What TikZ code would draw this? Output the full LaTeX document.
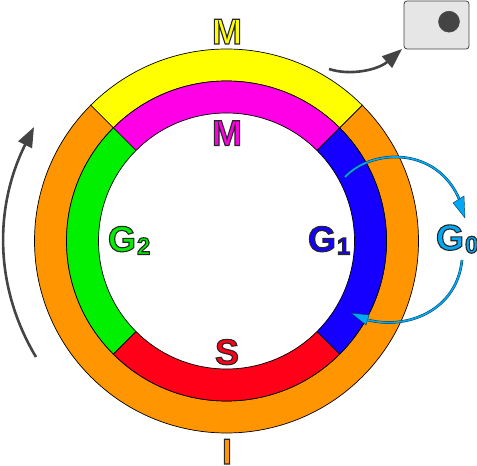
\documentclass[tikz,border=0pt]{standalone}
\usepackage{fontspec}
\setmainfont{Liberation Sans}[BoldFont={Liberation Sans Bold}]
\usetikzlibrary{arrows.meta}
\definecolor{cOrange}{HTML}{FF9500}
\definecolor{cYellow}{HTML}{FFFF00}
\definecolor{cMagenta}{HTML}{FF00E6}
\definecolor{cBlue}{HTML}{1500FF}
\definecolor{cGreen}{HTML}{00F000}
\definecolor{cRed}{HTML}{FF0018}
\definecolor{cSky}{HTML}{00A8F5}
\definecolor{cDark}{HTML}{444444}
\definecolor{cBoxFill}{HTML}{E6E6E6}
\newcommand{\outl}[1]{\special{pdf:code q 2 Tr 1.1 w 0.15 0.15 0.15 RG}#1\special{pdf:code Q}}
\newcommand{\lab}[2]{\outl{\fontsize{36bp}{36bp}\selectfont\bfseries #1\ifx&#2&\else\kern1pt\raisebox{-3bp}{\fontsize{24bp}{24bp}\selectfont #2}\fi}}
\tikzset{
  x=1bp,y=-1bp,
  seg/.style={draw=black,line width=0.7bp,fill=#1},
  lbl/.style={inner sep=0pt,outer sep=0pt,text=#1},
  grayarrow/.style={draw=cDark,line width=2.6bp,-{Triangle[length=20bp,width=15bp,fill=cDark]},shorten >=0pt},
  bluearrow/.style={draw=cSky!35!black,line width=0.5bp,double=cSky,double distance=1.6bp},
  bluehead/.style={fill=cSky,draw=cSky!35!black,line width=0.4bp},
}
\newcommand{\ringseg}[4]{% start angle, end angle, outer r, colour
  \pgfmathsetmacro{\rin}{#3-32}
  \begin{scope}[shift={(226.5,241)}]
  \draw[seg=#4] (#1:#3) arc[start angle=#1,end angle=#2,radius=#3]
     -- (#2:\rin) arc[start angle=#2,end angle=#1,radius=\rin] -- cycle;
  \end{scope}}
\begin{document}
\begin{tikzpicture}
\useasboundingbox (0,0) rectangle (477,466);
% outer ring
\ringseg{-45}{-135}{192}{cYellow}
\ringseg{-135}{-405}{192}{cOrange}
% inner ring
\ringseg{-45}{-135}{160}{cMagenta}
\ringseg{-135}{-225}{160}{cGreen}
\ringseg{-225}{-315}{160}{cRed}
\ringseg{45}{-45}{160}{cBlue}
% labels
\node[lbl=cYellow,anchor=base] (mtop) at (227,44) {\lab{M}{}};
\node[lbl=cMagenta,anchor=base] (minner) at (227,145.5) {\lab{M}{}};
\node[lbl=cRed,anchor=base] (s) at (227,364.5) {\lab{S}{}};
\node[lbl=cOrange,anchor=base] (i) at (227,464) {\lab{I}{}};
\node[lbl=cGreen,anchor=base west] (g2) at (108,251.5) {\lab{G}{2}};
\node[lbl=cBlue,anchor=base west] (g1) at (308,251.5) {\lab{G}{1}};
\node[lbl=cSky,anchor=base west] (g0) at (436,250) {\lab{G}{0}};
% box
\node[draw=cDark,fill=cBoxFill,rounded corners=3bp,line width=0.8bp,minimum width=65bp,minimum height=48bp,inner sep=0pt] (box) at (436.5,25) {};
\node[circle,fill=cDark,draw=black!70,line width=0.5bp,minimum size=21bp,inner sep=0pt] (dot) at (449,21.7) {};
% grey arrows
\coordinate (a1) at (329,69);
\coordinate (a1t) at (402,49);
\draw[grayarrow] (a1) .. controls (350,76) and (378,70) .. (a1t);
\coordinate (a2) at (36,357);
\coordinate (a2t) at (34,127);
\draw[grayarrow] (a2) .. controls (-7,285) and (-5,205) .. (a2t);
% blue arrows
\coordinate (b1) at (345,177);
\coordinate (b1e) at (460,201);
\coordinate (b2) at (462,260);
\coordinate (b2e) at (368,320);
\draw[bluearrow] (b1) .. controls (372,148) and (438,146) .. (b1e);
\draw[bluehead] (465,218) -- (453,203) -- (464,196) -- cycle;
\draw[bluearrow] (b2) .. controls (457,310) and (408,330) .. (b2e);
\draw[bluehead] (351,313) -- (369,315) -- (366,325) -- cycle;
\end{tikzpicture}
\end{document}
